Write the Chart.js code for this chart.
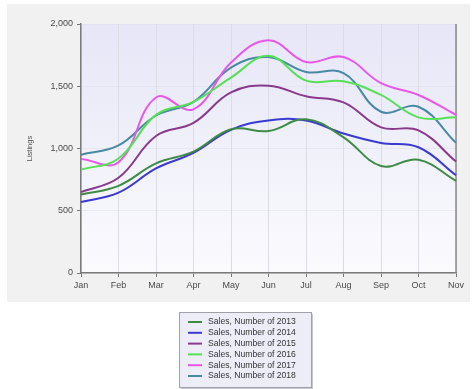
<!DOCTYPE html>
<html>
<head>
<meta charset="utf-8">
<script src="https://cdn.jsdelivr.net/npm/chart.js@4/dist/chart.umd.min.js"></script>
<style>
  html, body { margin: 0; padding: 0; background: #ffffff; }
  #wrap { width: 473px; height: 389px; }
</style>
</head>
<body>
<div id="wrap"><canvas id="c" width="473" height="389"></canvas></div>
<script>
// Monthly listings by year
const months = ['Jan', 'Feb', 'Mar', 'Apr', 'May', 'Jun', 'Jul', 'Aug', 'Sep', 'Oct', 'Nov'];
const seriesNames = [
  'Sales, Number of 2013', 'Sales, Number of 2014', 'Sales, Number of 2015',
  'Sales, Number of 2016', 'Sales, Number of 2017', 'Sales, Number of 2018'
];
const sales2013 = [630, 700, 880, 975, 1155, 1140, 1235, 1090, 860, 910, 740];
const sales2014 = [570, 645, 840, 965, 1150, 1225, 1225, 1120, 1045, 1010, 785];
const sales2015 = [650, 765, 1100, 1205, 1450, 1505, 1420, 1370, 1170, 1145, 895];
const sales2016 = [830, 920, 1270, 1375, 1570, 1745, 1545, 1540, 1430, 1250, 1250];
const sales2017 = [915, 890, 1410, 1315, 1690, 1870, 1695, 1735, 1525, 1430, 1270];
const sales2018 = [950, 1025, 1265, 1375, 1650, 1735, 1615, 1605, 1295, 1335, 1045];
const yTicks = [0, 500, 1000, 1500, 2000];
const yTitle = 'Listings';

const colors = ['#3f8a44', '#3a3ad0', '#8a3a8c', '#55e055', '#e858e8', '#4a88a4'];
const allSeries = [sales2013, sales2014, sales2015, sales2016, sales2017, sales2018];
const fontFamily = '"Liberation Sans", Arial, sans-serif';

const datasets = allSeries.map((vals, i) => ({
  label: seriesNames[i],
  data: vals,
  borderColor: colors[i],
  backgroundColor: colors[i],
  borderWidth: 2,
  pointRadius: 0,
  tension: 0.4,
  fill: false
}));

// Panel, plot background, right frame line, axis title and boxed legend
const decor = {
  id: 'decor',
  beforeDraw(chart) {
    const ctx = chart.ctx;
    const a = chart.chartArea;
    ctx.save();
    ctx.fillStyle = '#ffffff';
    ctx.fillRect(0, 0, chart.width, chart.height);
    ctx.fillStyle = '#f1f1f1';
    ctx.fillRect(7, 4, 463, 298);
    const g = ctx.createLinearGradient(0, a.top, 0, a.bottom);
    g.addColorStop(0, '#e6e6f7');
    g.addColorStop(1, '#fbfbfe');
    ctx.fillStyle = g;
    ctx.fillRect(a.left, a.top, a.right - a.left, a.bottom - a.top);
    ctx.restore();
  },
  beforeDatasetsDraw(chart) {
    const ctx = chart.ctx;
    const a = chart.chartArea;
    ctx.save();
    ctx.strokeStyle = '#8a8a8a';
    ctx.lineWidth = 1.5;
    ctx.beginPath();
    ctx.moveTo(a.right, a.top);
    ctx.lineTo(a.right, a.bottom);
    ctx.stroke();
    ctx.restore();
  },
  afterDraw(chart) {
    const ctx = chart.ctx;
    const a = chart.chartArea;
    ctx.save();
    // vertical axis title
    ctx.translate(30, (a.top + a.bottom) / 2);
    ctx.rotate(-Math.PI / 2);
    ctx.fillStyle = '#555555';
    ctx.font = '7.5px ' + fontFamily;
    ctx.textAlign = 'center';
    ctx.textBaseline = 'middle';
    ctx.fillText(yTitle, 0, 0);
    ctx.restore();

    // legend box
    ctx.save();
    const bx = 179, by = 312, bw = 132, bh = 75;
    ctx.fillStyle = '#c8c8d0';
    ctx.fillRect(bx + 2, by + 2, bw, bh);
    ctx.fillStyle = '#ededf8';
    ctx.fillRect(bx, by, bw, bh);
    ctx.strokeStyle = '#a0a0a8';
    ctx.lineWidth = 1;
    ctx.strokeRect(bx + 0.5, by + 0.5, bw, bh);
    ctx.font = '8.6px ' + fontFamily;
    ctx.textBaseline = 'middle';
    chart.data.datasets.forEach((ds, i) => {
      const yy = by + 10 + i * 10.8;
      ctx.strokeStyle = ds.borderColor;
      ctx.lineWidth = 2;
      ctx.beginPath();
      ctx.moveTo(188, yy);
      ctx.lineTo(202, yy);
      ctx.stroke();
      ctx.fillStyle = '#333333';
      ctx.fillText(ds.label, 208, yy);
    });
    ctx.restore();
  }
};

new Chart(document.getElementById('c'), {
  type: 'line',
  data: { labels: months, datasets },
  options: {
    responsive: false,
    animation: false,
    devicePixelRatio: 1,
    layout: { padding: { left: 0, right: 17, top: 24, bottom: 0 } },
    plugins: {
      legend: { display: false },
      tooltip: { enabled: false }
    },
    scales: {
      x: {
        offset: false,
        afterFit(scale) { scale.height = 116; },
        grid: {
          color: '#dcdce4',
          lineWidth: 1,
          tickColor: '#777777',
          tickLength: 4,
          drawTicks: true
        },
        border: { color: '#7a7a7a', width: 1.5 },
        ticks: {
          padding: 3,
          maxRotation: 0,
          autoSkip: false,
          color: '#4a4a4a',
          font: { family: fontFamily, size: 9 }
        }
      },
      y: {
        min: 0,
        max: 2000,
        afterFit(scale) { scale.width = 81; },
        afterBuildTicks(scale) { scale.ticks = yTicks.map(v => ({ value: v })); },
        grid: {
          color: 'rgba(220,220,232,0.45)',
          lineWidth: 1,
          tickColor: '#777777',
          tickLength: 4,
          drawTicks: true
        },
        border: { color: '#7a7a7a', width: 1.5 },
        ticks: {
          padding: 4,
          color: '#4a4a4a',
          font: { family: fontFamily, size: 9 },
          callback: v => v.toLocaleString('en-US')
        }
      }
    }
  },
  plugins: [decor]
});
</script>
</body>
</html>
